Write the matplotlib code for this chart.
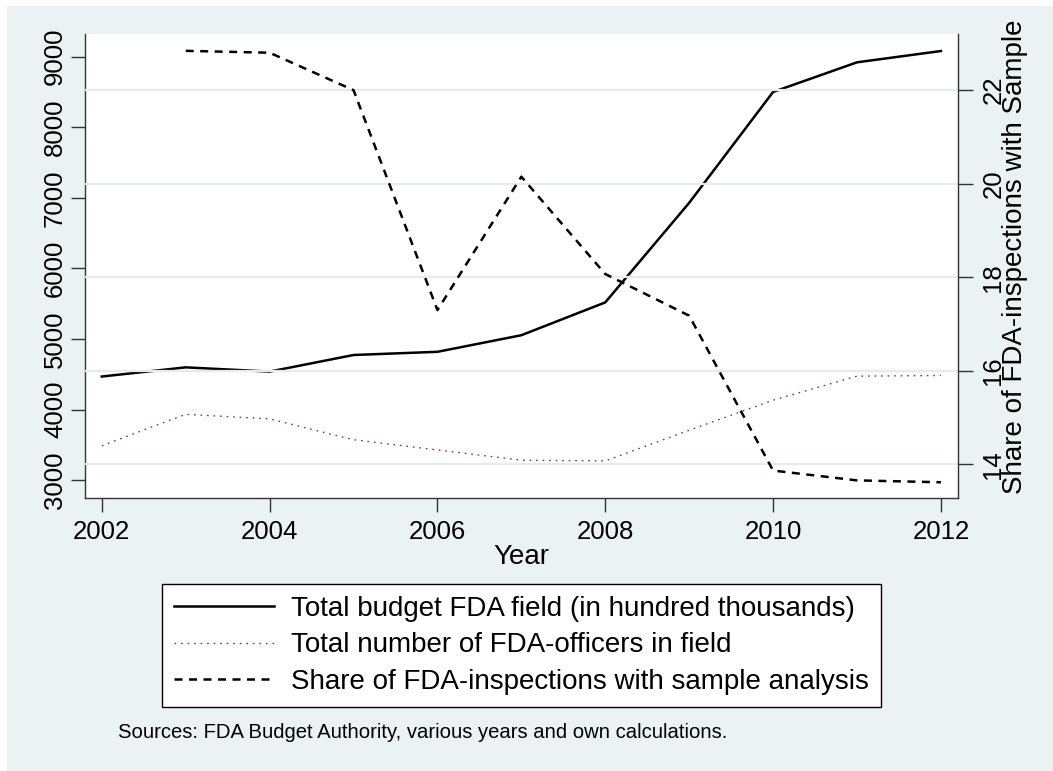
import numpy as np
import matplotlib
matplotlib.use("Agg")
import matplotlib.pyplot as plt
from matplotlib.patches import Rectangle

plt.rcParams['font.family'] = ['Liberation Sans', 'DejaVu Sans']

# values
years = [2002, 2003, 2004, 2005, 2006, 2007, 2008, 2009, 2010, 2011, 2012]
budget = [4470, 4600, 4540, 4775, 4820, 5055, 5520, 6930, 8500, 8920, 9080]
officers = [3490, 3935, 3870, 3575, 3430, 3285, 3275, 3710, 4135, 4475, 4485]
share = [np.nan, 22.84, 22.80, 22.0, 17.3, 20.15, 18.07, 17.18, 13.87, 13.66, 13.62]

labels = ["Total budget FDA field (in hundred thousands)",
          "Total number of FDA-officers in field",
          "Share of FDA-inspections with sample analysis"]
left_ticks = [3000, 4000, 5000, 6000, 7000, 8000, 9000]
right_ticks = [14, 16, 18, 20, 22]
year_ticks = [2002, 2004, 2006, 2008, 2010, 2012]

bg = '#EAF2F3'
fs = 18.5      # tick labels
fs_title = 20  # axis titles and legend

fig = plt.figure(figsize=(10.53, 7.71), dpi=100)
fig.patch.set_facecolor('white')
fig.patches.append(Rectangle((7 / 1053, 0), 1 - 7 / 1053, 1 - 6 / 771,
                             transform=fig.transFigure, facecolor=bg,
                             edgecolor='none', zorder=-10))

ax = fig.add_axes([85 / 1053, 1 - 497.7 / 771, 872.7 / 1053, 463.7 / 771])
ax.set_facecolor('white')
ax2 = ax.twinx()

l1, = ax.plot(years, budget, color='black', lw=1.8, zorder=3)
l2, = ax.plot(years, officers, color='#903539', lw=1.0,
              linestyle=(0, (1.2, 3.5)), zorder=3)
l3, = ax2.plot(years, share, color='black', lw=1.8,
               linestyle=(0, (3.2, 2.6)), zorder=3)

ax.set_xlim(2001.8, 2012.2)
ax.set_ylim(2754, 9321)
ax2.set_ylim(13.29, 23.2)

ax.set_xticks(year_ticks)
ax.set_yticks(left_ticks)
ax2.set_yticks(right_ticks)

ax2.grid(axis='y', color='#E3EDEF', lw=1.6, zorder=0)
ax2.set_axisbelow(True)

for s in ['top', 'right']:
    ax.spines[s].set_visible(False)
for s in ['top', 'left', 'bottom']:
    ax2.spines[s].set_visible(False)
for a, s in [(ax, 'left'), (ax, 'bottom'), (ax2, 'right')]:
    a.spines[s].set_color('#333333')
    a.spines[s].set_linewidth(1.0)

ax.tick_params(axis='both', length=10, width=1.0, color='#333333',
               labelsize=fs)
ax.tick_params(axis='x', pad=6)
ax.tick_params(axis='y', pad=3, labelrotation=90)
ax2.tick_params(axis='y', length=11, width=1.0, color='#333333',
                labelsize=fs, pad=6, labelrotation=90)
plt.setp(ax.get_yticklabels(), va='center')
plt.setp(ax2.get_yticklabels(), va='center')

ax.set_xlabel("Year", fontsize=fs_title, labelpad=0)
ax2.set_ylabel("Share of FDA-inspections with Sample", fontsize=fs_title)
ax2.yaxis.set_label_coords(1.051, 0.519)

leg = fig.legend([l1, l2, l3], labels, loc='upper center',
                 bbox_to_anchor=(521.4 / 1053, 1 - 584 / 771),
                 borderaxespad=0, fontsize=fs_title, handlelength=3.6,
                 handletextpad=0.6, labelspacing=0.38, borderpad=0.43,
                 fancybox=False, framealpha=1, edgecolor='black')
leg.get_frame().set_linewidth(1.0)

fig.text(118 / 1053, 1 - 732 / 771,
         "Sources: FDA Budget Authority, various years and own calculations.",
         fontsize=14.6, va='center')

fig.savefig("out.png", dpi=100, facecolor=fig.get_facecolor())
